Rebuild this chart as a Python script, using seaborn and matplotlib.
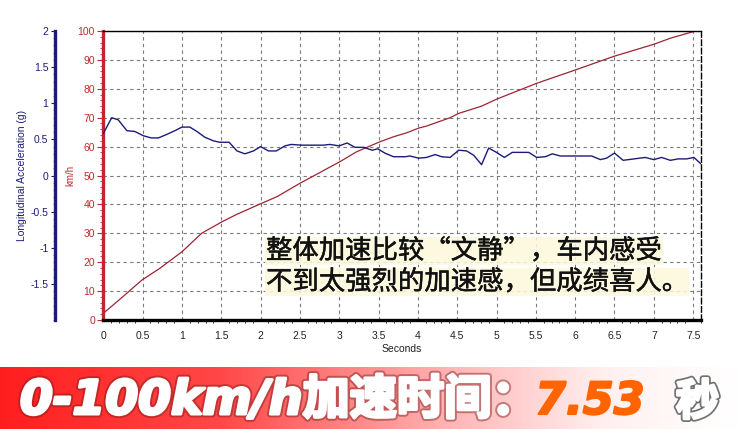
import numpy as np
import pandas as pd
import seaborn as sns
import matplotlib.pyplot as plt
import matplotlib.patheffects as pe
from matplotlib.colors import LinearSegmentedColormap
from matplotlib.ticker import MultipleLocator, FixedLocator

# --- data ---
speed_t = [0, 0.25, 0.49, 0.72, 1.0, 1.25, 1.51, 1.70, 1.99, 2.21, 2.50, 3.01, 3.22,
           3.52, 3.69, 3.86, 4.01, 4.11, 4.41, 4.52, 4.81, 5.0, 5.51, 6.0, 6.5, 7.0,
           7.21, 7.53]
speed_kmh = [2.3, 8.1, 13.8, 17.9, 23.6, 30.0, 34.0, 36.6, 40.1, 42.7, 47.3, 54.8, 58.2,
             61.7, 63.4, 64.8, 66.4, 67.1, 70.0, 71.5, 74.0, 76.4, 81.9, 86.5, 91.3, 95.4,
             97.5, 100.0]

acc_t = [0, 0.107, 0.19, 0.30, 0.40, 0.51, 0.61, 0.70, 0.81, 0.91, 1.0, 1.10, 1.19, 1.29,
         1.40, 1.48, 1.60, 1.70, 1.80, 1.91, 2.0, 2.10, 2.20, 2.31, 2.39, 2.52, 2.80, 2.88,
         3.0, 3.10, 3.20, 3.31, 3.42, 3.49, 3.58, 3.69, 3.84, 3.90, 4.01, 4.11, 4.22, 4.30,
         4.41, 4.52, 4.62, 4.71, 4.81, 4.90, 5.0, 5.10, 5.20, 5.41, 5.51, 5.62, 5.71, 5.81,
         6.06, 6.21, 6.32, 6.40, 6.50, 6.61, 6.75, 6.89, 7.0, 7.10, 7.21, 7.31, 7.42, 7.51,
         7.60]
acc_g = [0.58, 0.80, 0.77, 0.62, 0.61, 0.55, 0.52, 0.52, 0.57, 0.62, 0.67, 0.67, 0.61, 0.53,
         0.48, 0.46, 0.46, 0.34, 0.30, 0.34, 0.40, 0.34, 0.34, 0.41, 0.43, 0.42, 0.42, 0.43,
         0.41, 0.45, 0.39, 0.39, 0.35, 0.37, 0.31, 0.26, 0.26, 0.27, 0.24, 0.25, 0.29, 0.26,
         0.25, 0.35, 0.34, 0.28, 0.15, 0.38, 0.32, 0.25, 0.32, 0.32, 0.25, 0.26, 0.30, 0.27,
         0.27, 0.27, 0.22, 0.24, 0.31, 0.21, 0.23, 0.25, 0.22, 0.25, 0.21, 0.23, 0.23, 0.25,
         0.16]

x_ticks = [0, 0.5, 1, 1.5, 2, 2.5, 3, 3.5, 4, 4.5, 5, 5.5, 6, 6.5, 7, 7.5]
kmh_ticks = [0, 10, 20, 30, 40, 50, 60, 70, 80, 90, 100]
g_ticks = [2, 1.5, 1, 0.5, 0, -0.5, -1, -1.5]

note_lines = ["整体加速比较“文静”，车内感受", "不到太强烈的加速感，但成绩喜人。"]
banner_main = "0-100km/h加速时间："
banner_value = "7.53"
banner_unit = "秒"

speed_df = pd.DataFrame({"Seconds": speed_t, "km/h": speed_kmh})
acc_df = pd.DataFrame({"Seconds": acc_t, "g": acc_g})

sns.set_style("white")
plt.rcParams['font.family'] = ['Liberation Sans', 'Noto Sans CJK SC', 'DejaVu Sans']

RED = '#c0282d'
NAVY = '#1c1c78'
W, H = 739, 429

fig = plt.figure(figsize=(W / 100, H / 100), dpi=100)
fig.patch.set_facecolor('white')

# main axes (km/h), pixel box: x 103..701, y 31..320
ax = fig.add_axes([103.3 / W, (H - 320) / H, (701 - 103.3) / W, 289 / H])
ax2 = ax.twinx()

sns.lineplot(data=speed_df, x="Seconds", y="km/h", ax=ax, color='#9e2433', lw=0.9,
             sort=False, estimator=None)
sns.lineplot(data=acc_df, x="Seconds", y="g", ax=ax2, color=NAVY, lw=1.0,
             sort=False, estimator=None)

ax.set_xlim(0, 7.6)
ax.set_ylim(0, 100)
ax2.set_ylim(-2, 2)

# grid
ax.xaxis.set_major_locator(FixedLocator(x_ticks))
ax.yaxis.set_major_locator(FixedLocator(kmh_ticks))
ax.xaxis.set_minor_locator(MultipleLocator(0.1))
ax.yaxis.set_minor_locator(MultipleLocator(2))
ax.grid(True, which='major', color='#7a7a7a', linestyle=(0, (3, 3)), lw=0.8)
ax.set_axisbelow(True)

# spines
ax.spines['top'].set_color('black')
ax.spines['top'].set_linewidth(1.0)
ax.spines['bottom'].set_color('black')
ax.spines['bottom'].set_linewidth(2.4)
ax.spines['left'].set_color(RED)
ax.spines['left'].set_linewidth(2.4)
ax.spines['right'].set_color('black')
ax.spines['right'].set_linestyle((0, (4, 2)))
ax.spines['right'].set_linewidth(1.0)

ax.tick_params(axis='x', which='major', direction='out', length=4, width=0.8,
               colors='#222222', labelsize=7.5, pad=4)
ax.tick_params(axis='x', which='minor', direction='out', length=2.5, width=0.6,
               colors='#222222', bottom=True)
ax.tick_params(axis='y', which='major', direction='out', length=4, width=0.8,
               colors=RED, labelsize=7.5, pad=2)
ax.tick_params(axis='y', which='minor', direction='out', length=2, width=0.6,
               colors=RED, left=True)
ax.set_xticklabels([f"{v:g}" for v in x_ticks])
ax.set_yticklabels([str(v) for v in kmh_ticks])

ax.set_xlabel("Seconds", fontsize=7.5, color='#222222', labelpad=2)
ax.set_ylabel("km/h", fontsize=7, color=RED)
ax.yaxis.set_label_coords(-0.047, 0.5)

# acceleration axis on the far left
for s in ['top', 'bottom', 'right']:
    ax2.spines[s].set_visible(False)
ax2.spines['left'].set_visible(True)
ax2.spines['left'].set_position(('outward', 35))
ax2.spines['left'].set_color(NAVY)
ax2.spines['left'].set_linewidth(2.4)
ax2.yaxis.set_ticks_position('left')
ax2.yaxis.set_label_position('left')
ax2.yaxis.set_major_locator(FixedLocator(g_ticks))
ax2.yaxis.set_minor_locator(MultipleLocator(0.1))
ax2.set_yticklabels([f"{v:g}" for v in g_ticks])
ax2.tick_params(axis='y', which='major', direction='out', length=3, width=0.8,
                colors=NAVY, labelsize=7.5, pad=1.5)
ax2.tick_params(axis='y', which='minor', direction='out', length=1.5, width=0.4,
                colors=NAVY)
ax2.set_ylabel("Longitudinal Acceleration (g)", fontsize=7.5, color=NAVY)
ax2.yaxis.set_label_coords(-0.128, 0.5)
ax2.set_xlim(0, 7.6)

# note text with pale yellow highlight
for i, line in enumerate(note_lines):
    fig.text(266 / W, 1 - (251 + 31 * i) / H, line, fontsize=19, color='#111111',
             family=['Noto Sans CJK SC', 'DejaVu Sans'], ha='left', va='center',
             bbox=dict(facecolor='#fdf8dc', edgecolor='none', pad=0.5, alpha=0.85),
             path_effects=[pe.withStroke(linewidth=0.35, foreground='#111111')])

# bottom banner with red-to-white gradient
bax = fig.add_axes([0, 0, 1, 62 / H])
cmap = LinearSegmentedColormap.from_list(
    'banner', [(0, '#ff1e1e'), (0.3, '#ff4848'), (0.62, '#ffb8b8'),
               (0.82, '#fff0f0'), (1, '#ffffff')])
bax.imshow(np.linspace(0, 1, 256)[None, :], aspect='auto', cmap=cmap,
           extent=[0, W, 0, 62])
bax.set_xlim(0, W)
bax.set_ylim(0, 62)
bax.axis('off')

heavy_white = [pe.withStroke(linewidth=5, foreground='#7a1a1a', alpha=0.45),
               pe.withStroke(linewidth=2.2, foreground='white'), pe.Normal()]
bax.text(20, 15, banner_main, fontsize=34, color='white', weight='bold', style='italic',
         family=['DejaVu Sans', 'Noto Sans CJK SC'], ha='left', va='baseline',
         path_effects=heavy_white)
bax.text(535, 15, banner_value, fontsize=32, color='#ff6400', weight='bold',
         style='italic', family=['DejaVu Sans'], ha='left', va='baseline',
         path_effects=[pe.withStroke(linewidth=1.5, foreground='#ff6400'), pe.Normal()])
bax.text(676, 14, banner_unit, fontsize=31, color='white', weight='bold',
         family=['Noto Sans CJK SC', 'DejaVu Sans'], ha='left', va='baseline',
         path_effects=[pe.withStroke(linewidth=4.5, foreground='#5a5a5a', alpha=0.85),
                       pe.withStroke(linewidth=2.0, foreground='white'), pe.Normal()])

plt.savefig('out.png', dpi=100)
